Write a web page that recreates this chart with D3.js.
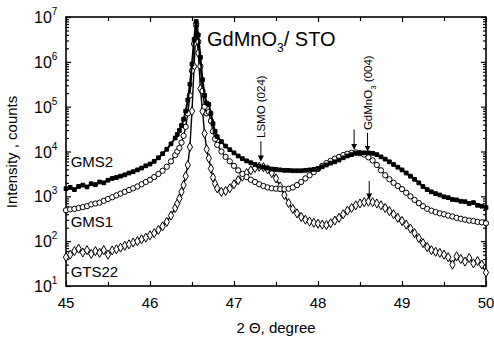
<!DOCTYPE html>
<html>
<head>
<meta charset="utf-8">
<script src="https://cdn.jsdelivr.net/npm/d3@7"></script>
<style>
  body { margin: 0; background: #fff; }
  text { font-family: "Liberation Sans", Arial, sans-serif; fill: #000; }
</style>
</head>
<body>
<div id="chart"></div>
<script>
// 2theta grid (finer around the substrate peak)
const theta = [
  45.00, 45.05, 45.10, 45.15, 45.20, 45.25, 45.30, 45.35, 45.40, 45.45,
  45.50, 45.55, 45.60, 45.65, 45.70, 45.75, 45.80, 45.85, 45.90, 45.95,
  46.00, 46.05, 46.10, 46.15, 46.20, 46.25, 46.30,
  46.325, 46.35, 46.375, 46.40, 46.425, 46.45, 46.475, 46.50, 46.525, 46.55,
  46.575, 46.60, 46.625, 46.65, 46.675, 46.70, 46.725, 46.75, 46.775, 46.80,
  46.85, 46.90, 46.95, 47.00, 47.05, 47.10, 47.15, 47.20, 47.25, 47.30,
  47.35, 47.40, 47.45, 47.50, 47.55, 47.60, 47.65, 47.70, 47.75, 47.80,
  47.85, 47.90, 47.95, 48.00, 48.05, 48.10, 48.15, 48.20, 48.25, 48.30,
  48.35, 48.40, 48.45, 48.50, 48.55, 48.60, 48.65, 48.70, 48.75, 48.80,
  48.85, 48.90, 48.95, 49.00, 49.05, 49.10, 49.15, 49.20, 49.25, 49.30,
  49.35, 49.40, 49.45, 49.50, 49.55, 49.60, 49.65, 49.70, 49.75, 49.80,
  49.85, 49.90, 49.95, 50.00
];

// intensities, counts
const gms2 = [
  1480, 1580, 1410, 1660, 1780, 1620, 1910, 1820, 2090, 2000,
  2290, 2510, 2630, 2820, 3020, 3310, 3550, 3890, 4270, 4790,
  5250, 6030, 7240, 8910, 11200, 14800, 20000,
  24000, 29500, 38000, 52500, 79400, 141000, 316000, 891000, 3160000, 7940000,
  3980000, 1260000, 398000, 178000, 120000, 112000, 70800, 41700, 28200, 21400,
  16600, 13200, 11000, 9330, 7940, 6920, 6170, 5620, 5130, 4680,
  4470, 4270, 4070, 3980, 3890, 3800, 3800, 3720, 3720, 3720,
  3800, 3890, 3980, 4170, 4570, 5010, 5500, 5890, 6460, 7240,
  7940, 8510, 9120, 9330, 9330, 9330, 9120, 8510, 7590, 6760,
  5890, 5130, 4470, 3890, 3310, 2820, 2400, 2000, 1660, 1410,
  1260, 1150, 1070, 977, 933, 851, 832, 776, 759, 692,
  724, 631, 603, 562
];

const gms1 = [
  490, 513, 525, 550, 575, 603, 661, 692, 724, 794,
  871, 955, 1050, 1150, 1260, 1380, 1510, 1660, 1860, 2090,
  2340, 2690, 3160, 3720, 4570, 6030, 8320,
  10000, 12000, 15800, 22400, 35500, 70800, 178000, 631000, 2510000, 7080000,
  2820000, 794000, 224000, 100000, 70800, 75900, 47900, 28200, 19100, 14100,
  10000, 7590, 6030, 4790, 3800, 3160, 2690, 2340, 2090, 1860,
  1700, 1580, 1510, 1480, 1450, 1450, 1480, 1580, 1780, 2090,
  2510, 2950, 3470, 4070, 4790, 5500, 6170, 6920, 7590, 8320,
  8910, 9330, 9550, 9120, 8510, 7410, 6310, 5010, 3800, 2950,
  2400, 2000, 1700, 1450, 1200, 1000, 832, 708, 603, 525,
  479, 447, 417, 398, 372, 355, 331, 316, 302, 288,
  282, 269, 263, 251
];

const gts22 = [
  44, 50, 60, 68, 56, 63, 52, 60, 55, 63,
  50, 62, 66, 72, 79, 85, 93, 100, 110, 120,
  135, 151, 178, 214, 269, 372, 550,
  692, 891, 1260, 1780, 2820, 5010, 12600, 79400, 794000, 6310000,
  1580000, 251000, 79400, 25100, 11200, 7080, 4170, 2630, 1910, 1510,
  1260, 1320, 1510, 1860, 2290, 2750, 3310, 3800, 4270, 4570,
  4470, 3980, 3310, 2510, 1660, 1070, 708, 525, 417, 347,
  302, 275, 257, 245, 234, 229, 251, 288, 331, 398,
  479, 550, 631, 692, 741, 759, 741, 692, 631, 550,
  468, 398, 331, 282, 234, 191, 151, 117, 91, 74,
  63, 58, 55, 50, 44, 30, 46, 40, 35, 42,
  32, 36, 30, 20
];

const xMajor = [45, 46, 47, 48, 49, 50];
const xMinor = [45.5, 46.5, 47.5, 48.5, 49.5];
const yMajor = [1e1, 1e2, 1e3, 1e4, 1e5, 1e6, 1e7];

const config = {
  width: 494, height: 340,
  left: 66, right: 486, top: 17, bottom: 286
};

const svg = d3.select('#chart').append('svg')
  .attr('width', config.width)
  .attr('height', config.height);

const x = d3.scaleLinear().domain([45, 50]).range([config.left, config.right]);
const y = d3.scaleLog().domain([10, 1e7]).range([config.bottom, config.top]);

// minor log ticks 2..9 per decade
const yMinor = [];
yMajor.slice(0, -1).forEach(d => { for (let k = 2; k < 10; k++) yMinor.push(d * k); });

// axes: all ticks point inward
const axisG = svg.append('g');
const addAxis = (axis, tx, ty) => {
  const g = axisG.append('g').attr('transform', `translate(${tx},${ty})`).call(axis);
  g.select('.domain').remove();
  g.selectAll('line').attr('stroke', '#000').attr('stroke-width', 1.2);
  return g;
};
addAxis(d3.axisBottom(x).tickValues(xMajor).tickSize(-5).tickFormat(''), 0, config.bottom);
addAxis(d3.axisBottom(x).tickValues(xMinor).tickSize(-4).tickFormat(''), 0, config.bottom);
addAxis(d3.axisTop(x).tickValues(xMajor).tickSize(-5).tickFormat(''), 0, config.top);
addAxis(d3.axisTop(x).tickValues(xMinor).tickSize(-4).tickFormat(''), 0, config.top);
addAxis(d3.axisLeft(y).tickValues(yMajor).tickSize(-5).tickFormat(''), config.left, 0);
addAxis(d3.axisLeft(y).tickValues(yMinor).tickSize(-3).tickFormat(''), config.left, 0);
addAxis(d3.axisRight(y).tickValues(yMajor).tickSize(-5).tickFormat(''), config.right, 0);
addAxis(d3.axisRight(y).tickValues(yMinor).tickSize(-3).tickFormat(''), config.right, 0);

// frame
svg.append('rect')
  .attr('x', config.left).attr('y', config.top)
  .attr('width', config.right - config.left)
  .attr('height', config.bottom - config.top)
  .attr('fill', 'none').attr('stroke', '#000').attr('stroke-width', 1.6);

// x tick labels
svg.selectAll('.x-label')
  .data(xMajor)
  .join('text')
  .attr('class', 'x-label')
  .attr('x', d => x(d))
  .attr('y', config.bottom + 22)
  .attr('text-anchor', 'middle')
  .style('font-size', '15px')
  .text(d => d);

// y tick labels 10^n
const yLab = svg.selectAll('.y-label')
  .data(yMajor)
  .join('text')
  .attr('class', 'y-label')
  .attr('x', 34)
  .attr('y', d => y(d) + 6)
  .style('font-size', '16px');
yLab.append('tspan').text('10');
yLab.append('tspan')
  .attr('dy', -8)
  .style('font-size', '10px')
  .text(d => Math.round(Math.log10(d)));

// axis titles
svg.append('text')
  .attr('transform', `translate(17, 152) rotate(-90)`)
  .attr('text-anchor', 'middle')
  .style('font-size', '15px')
  .text('Intensity , counts');

svg.append('text')
  .attr('x', 276).attr('y', 333)
  .attr('text-anchor', 'middle')
  .style('font-size', '15px')
  .text('2 \u0398, degree');

// series
const series = [
  { name: 'GTS22', values: gts22, symbol: d3.symbolDiamond, size: 24, fill: '#fff', label: [45.02, 15.5] },
  { name: 'GMS1', values: gms1, symbol: d3.symbolCircle, size: 22, fill: '#fff', label: [45.02, 204] },
  { name: 'GMS2', values: gms2, symbol: d3.symbolSquare, size: 14, fill: '#000', label: [45.02, 4600] }
];

const line = d3.line()
  .x((d, i) => x(theta[i]))
  .y(d => y(d));

const plot = svg.append('g');
series.forEach(s => {
  const g = plot.append('g').attr('class', 'series');
  g.append('path')
    .attr('d', line(s.values))
    .attr('fill', 'none')
    .attr('stroke', '#000')
    .attr('stroke-width', s.fill === '#000' ? 2 : 1.4);
  g.selectAll('path.pt')
    .data(s.values)
    .join('path')
    .attr('class', 'pt')
    .attr('transform', (d, i) => `translate(${x(theta[i])},${y(d)})`)
    .attr('d', d3.symbol().type(s.symbol).size(s.size))
    .attr('fill', s.fill)
    .attr('stroke', '#000')
    .attr('stroke-width', 1);
  svg.append('text')
    .attr('x', x(s.label[0]) + 3)
    .attr('y', y(s.label[1]))
    .style('font-size', '15px')
    .text(s.name);
});

// title
const title = svg.append('text')
  .attr('x', 207).attr('y', 46)
  .style('font-size', '20px');
title.append('tspan').text('GdMnO');
title.append('tspan').attr('dy', 6).style('font-size', '12px').text('3');
title.append('tspan').attr('dy', -6).text('/ STO');

// peak annotations
svg.append('defs').append('marker')
  .attr('id', 'arrow')
  .attr('viewBox', '0 0 6 6')
  .attr('refX', 5).attr('refY', 3)
  .attr('markerWidth', 6).attr('markerHeight', 6)
  .attr('markerUnits', 'userSpaceOnUse')
  .attr('orient', 'auto')
  .append('path')
  .attr('d', 'M0,0L6,3L0,6Z')
  .attr('fill', '#000');

const arrows = [
  { t: 47.32, from: 17000, to: 6300 },
  { t: 48.43, from: 31000, to: 11500 },
  { t: 48.59, from: 26000, to: 10500 },
  { t: 48.61, from: 2200, to: 900 }
];
svg.selectAll('.arrow')
  .data(arrows)
  .join('line')
  .attr('class', 'arrow')
  .attr('x1', d => x(d.t)).attr('x2', d => x(d.t))
  .attr('y1', d => y(d.from)).attr('y2', d => y(d.to))
  .attr('stroke', '#000').attr('stroke-width', 1)
  .attr('marker-end', 'url(#arrow)');

const lsmo = svg.append('text')
  .attr('transform', `translate(${x(47.37)},${y(20000)}) rotate(-90)`)
  .style('font-size', '11.5px');
lsmo.text('LSMO (024)');

const gdm = svg.append('text')
  .attr('transform', `translate(${x(48.64)},${y(30000)}) rotate(-90)`)
  .style('font-size', '11.5px');
gdm.append('tspan').text('GdMnO');
gdm.append('tspan').attr('dy', 4).style('font-size', '8px').text('3');
gdm.append('tspan').attr('dy', -4).text(' (004)');
</script>
</body>
</html>
